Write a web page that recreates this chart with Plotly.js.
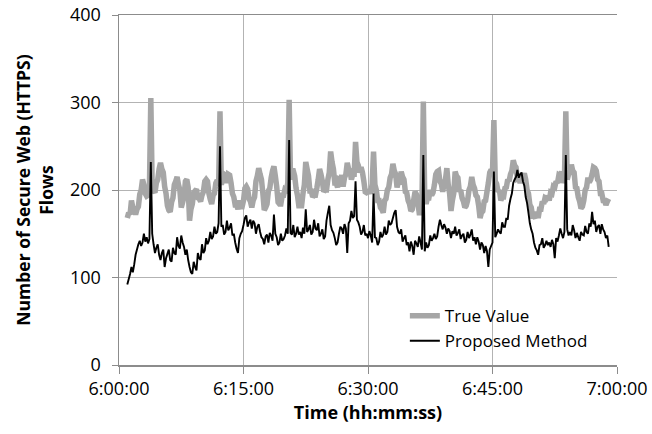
<!DOCTYPE html>
<html>
<head>
<meta charset="utf-8">
<script src="https://cdn.plot.ly/plotly-3.0.1.min.js"></script>
<style>
  html, body { margin: 0; padding: 0; background: #ffffff; }
  #chart { width: 652px; height: 434px; }
</style>
</head>
<body>
<div id="chart"></div>
<script>
// Secure web (HTTPS) flow counts between 6:00 and 7:00, one sample every 10 s starting 6:01:00
const startTime = '2024-01-01 06:01:00';
const stepSeconds = 10;

// one row per minute (6 samples), from 6:01 to 6:58, then 6:59:00
const trueValue = [
  168, 174, 172, 188, 180, 177,
  172, 178, 181, 195, 200, 212,
  206, 196, 193, 194, 203, 305,
  202, 199, 197, 208, 212, 224,
  231, 224, 220, 204, 196, 182,
  177, 175, 186, 191, 206, 210,
  215, 206, 200, 180, 186, 192,
  210, 212, 203, 165, 178, 184,
  197, 199, 201, 191, 190, 187,
  194, 198, 210, 212, 210, 196,
  189, 184, 194, 196, 208, 211,
  204, 290, 206, 216, 218, 217,
  208, 218, 217, 208, 196, 192,
  183, 183, 178, 188, 181, 181,
  188, 202, 204, 201, 190, 187,
  180, 188, 192, 210, 216, 225,
  218, 212, 196, 177, 180, 184,
  199, 202, 214, 222, 227, 216,
  204, 186, 184, 184, 194, 194,
  201, 200, 208, 303, 212, 222,
  222, 216, 202, 194, 182, 182,
  182, 196, 206, 232, 224, 216,
  199, 199, 192, 194, 194, 202,
  212, 224, 218, 210, 198, 200,
  200, 212, 220, 244, 232, 224,
  208, 208, 203, 212, 211, 217,
  204, 214, 218, 231, 224, 222,
  212, 218, 218, 255, 232, 228,
  220, 226, 220, 210, 198, 197,
  198, 199, 196, 207, 244, 206,
  200, 188, 188, 180, 178, 174,
  188, 190, 200, 203, 214, 218,
  230, 222, 218, 203, 209, 209,
  221, 215, 212, 198, 197, 188,
  184, 176, 178, 188, 198, 195,
  186, 174, 174, 184, 301, 192,
  184, 191, 191, 200, 194, 197,
  206, 218, 221, 222, 210, 207,
  198, 208, 212, 225, 206, 196,
  176, 188, 196, 221, 216, 214,
  198, 200, 191, 187, 180, 182,
  188, 200, 204, 215, 206, 202,
  194, 192, 182, 168, 174, 176,
  187, 188, 198, 208, 220, 223,
  220, 280, 210, 207, 198, 200,
  188, 192, 192, 202, 203, 212,
  210, 218, 222, 234, 228, 226,
  213, 214, 208, 214, 214, 219,
  212, 200, 196, 183, 180, 170,
  170, 168, 175, 168, 178, 178,
  187, 184, 191, 190, 193, 188,
  197, 196, 204, 203, 210, 208,
  217, 216, 221, 208, 214, 290,
  212, 218, 220, 229, 222, 220,
  203, 202, 192, 187, 179, 181,
  188, 200, 203, 214, 209, 212,
  218, 226, 225, 222, 212, 210,
  196, 196, 188, 188, 183, 187,
  190
];

const proposedMethod = [
   92,  98, 104, 112, 106, 115,
  126, 132, 138, 142, 136, 140,
  150, 141, 146, 139, 144, 232,
  150, 138, 128, 134, 138, 126,
  120, 128, 132, 112, 122, 127,
  132, 120, 118, 134, 128, 126,
  146, 136, 133, 148, 140, 135,
  126, 132, 120, 112, 106, 104,
  118, 112, 108, 128, 122, 120,
  138, 128, 131, 145, 138, 142,
  152, 144, 147, 158, 150, 152,
  162, 250, 158, 160, 149, 152,
  165, 154, 157, 162, 148, 150,
  140, 133, 128, 145, 150, 153,
  160, 168, 171, 158, 163, 166,
  156, 165, 162, 150, 158, 161,
  152, 146, 144, 138, 147, 149,
  140, 151, 148, 142, 172, 150,
  146, 137, 140, 150, 142, 144,
  148, 156, 150, 257, 151, 149,
  160, 146, 150, 158, 149, 152,
  145, 157, 150, 178, 152, 155,
  160, 149, 152, 166, 156, 154,
  162, 147, 150, 155, 144, 147,
  165, 174, 182, 160, 154, 151,
  145, 137, 140, 150, 158, 156,
  150, 161, 156, 128, 162, 165,
  176, 168, 170, 210, 166, 163,
  158, 149, 152, 160, 148, 150,
  145, 153, 148, 140, 196, 146,
  145, 137, 141, 152, 146, 149,
  158, 149, 152, 165, 160, 162,
  168, 174, 177, 158, 152, 150,
  155, 141, 145, 148, 137, 140,
  130, 141, 136, 126, 142, 139,
  135, 147, 140, 132, 240, 130,
  140, 134, 137, 148, 142, 145,
  150, 144, 147, 158, 166, 160,
  155, 161, 157, 150, 156, 153,
  145, 153, 150, 158, 148, 151,
  155, 144, 148, 150, 140, 143,
  152, 145, 149, 155, 142, 146,
  138, 146, 141, 132, 140, 137,
  128, 136, 130, 112, 132, 136,
  140, 221, 146, 150, 155, 152,
  150, 163, 158, 158, 168, 166,
  182, 190, 196, 208, 212, 215,
  223, 214, 218, 220, 210, 205,
  192, 185, 174, 162, 155, 150,
  140, 134, 131, 126, 137, 138,
  145, 134, 137, 142, 137, 140,
  135, 143, 138, 122, 145, 141,
  148, 156, 150, 145, 152, 240,
  155, 148, 152, 148, 160, 154,
  145, 151, 146, 142, 152, 149,
  148, 159, 152, 150, 162, 158,
  175, 161, 165, 152, 158, 160,
  150, 161, 155, 152, 145, 148,
  135
];

const yTickValues = [0, 100, 200, 300, 400];
const xTickStart = '2024-01-01 06:00:00';
const xRange = ['2024-01-01 06:00:00', '2024-01-01 07:00:00'];

// time stamp of each sample
function sampleTimes(n) {
  const t0 = new Date(startTime.replace(' ', 'T') + 'Z').getTime();
  const out = [];
  for (let i = 0; i < n; i++) {
    const d = new Date(t0 + i * stepSeconds * 1000);
    out.push(d.toISOString().replace('T', ' ').slice(0, 19));
  }
  return out;
}

const fontFamily = '"Open Sans", "Noto Sans", sans-serif';
const axisGray = '#8c8c8c';
const gridGray = '#b3b3b3';

const traces = [
  {
    type: 'scatter', mode: 'lines', name: 'True Value',
    x: sampleTimes(trueValue.length), y: trueValue,
    line: { color: '#a6a6a6', width: 5.5, simplify: false }
  },
  {
    type: 'scatter', mode: 'lines', name: 'Proposed Method',
    x: sampleTimes(proposedMethod.length), y: proposedMethod,
    line: { color: '#000000', width: 1.9, simplify: false }
  }
];

const layout = {
  width: 652, height: 434,
  margin: { l: 119, r: 35, t: 15, b: 69 },
  paper_bgcolor: '#ffffff', plot_bgcolor: '#ffffff',
  font: { family: fontFamily, size: 18, color: '#000000' },
  showlegend: true,
  legend: {
    x: 0.574, y: 0.191, xanchor: 'left', yanchor: 'top',
    bgcolor: 'rgba(255,255,255,0)', borderwidth: 0,
    font: { family: fontFamily, size: 17, color: '#000000' },
    tracegroupgap: 0
  },
  xaxis: {
    type: 'date', range: xRange,
    tick0: xTickStart, dtick: 15 * 60 * 1000,
    tickformat: '%-H:%M:%S',
    showgrid: true, gridcolor: gridGray, gridwidth: 1,
    showline: true, linecolor: axisGray, linewidth: 1.5, mirror: true,
    ticks: 'outside', ticklen: 7, tickcolor: axisGray, tickwidth: 1,
    tickfont: { family: fontFamily, size: 18, color: '#000000' },
    zeroline: false, fixedrange: true,
    title: { text: '<b>Time (hh:mm:ss)</b>', font: { family: fontFamily, size: 18 }, standoff: 6 }
  },
  yaxis: {
    range: [0, 400], tickvals: yTickValues,
    showgrid: true, gridcolor: gridGray, gridwidth: 1,
    showline: true, linecolor: axisGray, linewidth: 1.5, mirror: false,
    ticks: 'outside', ticklen: 6, tickcolor: axisGray, tickwidth: 1,
    ticklabelstandoff: 7,
    tickfont: { family: fontFamily, size: 18, color: '#000000' },
    zeroline: false, fixedrange: true,
    title: { text: '<b>Number of Secure Web (HTTPS)<br>Flows</b>', font: { family: fontFamily, size: 17.5 }, standoff: 12 }
  }
};

Plotly.newPlot('chart', traces, layout, { displayModeBar: false, staticPlot: true });
</script>
</body>
</html>
